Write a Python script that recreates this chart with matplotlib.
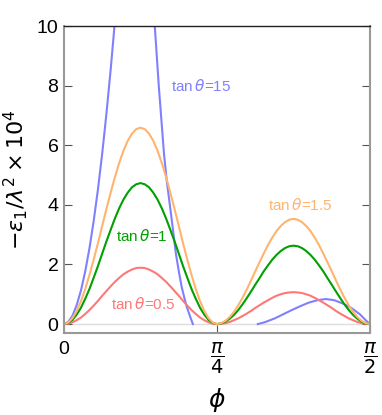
import matplotlib
matplotlib.use("Agg")
import matplotlib.pyplot as plt

# phi in degrees (0 .. 90 = pi/2), 1.25 degree steps
phi = [i * 1.25 for i in range(73)]

tan_1p5 = [0, .05, .20, .44, .77, 1.18, 1.65, 2.17, 2.72, 3.30, 3.87, 4.42, 4.94, 5.41, 5.82, 6.15, 6.39, 6.54, 6.59,
           6.54, 6.39, 6.15, 5.82, 5.41, 4.94, 4.42, 3.87, 3.30, 2.72, 2.17, 1.65, 1.18, .77, .44, .20, .05, 0,
           .03, .11, .24, .41, .63, .88, 1.16, 1.46, 1.77, 2.07, 2.37, 2.65, 2.90, 3.12, 3.29, 3.42, 3.50, 3.53,
           3.50, 3.42, 3.29, 3.12, 2.90, 2.65, 2.37, 2.07, 1.77, 1.46, 1.16, .88, .63, .41, .24, .11, .03, 0]
tan_1 = [0, .04, .14, .32, .55, .85, 1.18, 1.56, 1.95, 2.37, 2.78, 3.17, 3.55, 3.89, 4.18, 4.41, 4.59, 4.69, 4.73,
         4.69, 4.59, 4.41, 4.18, 3.89, 3.55, 3.17, 2.78, 2.37, 1.95, 1.56, 1.18, .85, .55, .32, .14, .04, 0,
         .02, .08, .18, .31, .47, .66, .87, 1.09, 1.32, 1.54, 1.77, 1.97, 2.16, 2.32, 2.45, 2.55, 2.61, 2.63,
         2.61, 2.55, 2.45, 2.32, 2.16, 1.97, 1.77, 1.54, 1.32, 1.09, .87, .66, .47, .31, .18, .08, .02, 0]
tan_0p5 = [0, .01, .06, .13, .22, .34, .47, .62, .78, .95, 1.11, 1.27, 1.42, 1.55, 1.67, 1.76, 1.83, 1.88, 1.89,
           1.88, 1.83, 1.76, 1.67, 1.55, 1.42, 1.27, 1.11, .95, .78, .62, .47, .34, .22, .13, .06, .01, 0,
           .01, .03, .07, .13, .19, .27, .35, .44, .54, .63, .72, .80, .88, .95, 1.00, 1.04, 1.06, 1.07,
           1.06, 1.04, 1.00, .95, .88, .80, .72, .63, .54, .44, .35, .27, .19, .13, .07, .03, .01, 0]

# tan(theta)=15 comes in two separate pieces
phi_15a = [0, 1.25, 2.5, 3.75, 5, 6.25, 7.5, 8.75, 10, 11.25, 12.5, 13.75, 15, 16.25, 18, 20, 22, 24, 25.5,
           26.7, 27.9, 29.4, 30.2, 31.7, 32.9, 33.8, 34.6, 35.4, 36.1, 37.0, 37.9]
tan_15a = [0, .07, .28, .64, 1.13, 1.77, 2.55, 3.47, 4.53, 5.73, 7.08, 8.56, 10.19, 11.9, 13.8, 15.2, 15.3, 14.0, 12.2,
           10, 7.96, 5.73, 4.83, 3.49, 2.37, 1.75, 1.25, .88, .58, .28, 0]
phi_15b = [57, 59, 62, 64.5, 67, 69.5, 72, 74.5, 77, 79.5, 82, 84.5, 87, 89, 90]
tan_15b = [0, .06, .19, .33, .47, .6, .72, .8, .84, .8, .69, .54, .33, .1, 0]

c_blue = "#8080ff"
c_orange = "#ffb46e"
c_green = "#00a000"
c_red = "#ff7878"

plt.rcParams['font.family'] = ['Liberation Sans', 'DejaVu Sans']
plt.rcParams['mathtext.fontset'] = 'dejavusans'

fig = plt.figure(figsize=(3.82, 4.15), dpi=100)
ax = fig.add_axes([0.1675, 0.1976, 0.8011, 0.7397])

ax.axhline(0, color="#dddddd", lw=1.0, zorder=1)
lw = 1.5
ax.plot(phi_15a, tan_15a, color=c_blue, lw=lw)
ax.plot(phi_15b, tan_15b, color=c_blue, lw=lw)
ax.plot(phi, tan_0p5, color=c_red, lw=lw)
ax.plot(phi, tan_1, color=c_green, lw=lw)
ax.plot(phi, tan_1p5, color=c_orange, lw=lw)

ax.text(31.5, 8.0, r'tan$\,\theta$=15', color=c_blue, fontsize=11, va='center')
ax.text(60, 4.0, r'tan$\,\theta$=1.5', color=c_orange, fontsize=11, va='center')
ax.text(15.3, 2.95, r'tan$\,\theta$=1', color=c_green, fontsize=11, va='center')
ax.text(13.8, 0.66, r'tan$\,\theta$=0.5', color=c_red, fontsize=11, va='center')

ax.set_xlim(0, 90)
ax.set_ylim(-0.3, 10)
ax.set_xticks([0, 45, 90])
ax.set_xticklabels(['0', r'$\dfrac{\pi}{4}$', r'$\dfrac{\pi}{2}$'])
ax.set_yticks([0, 2, 4, 6, 8, 10])
ax.tick_params(direction='in', length=6, width=0.8, color='#555555', labelsize=14, right=True, pad=4)
ax.tick_params(axis='x', pad=6)

for s in ['left', 'right', 'bottom']:
    ax.spines[s].set_color('#999999')
    ax.spines[s].set_linewidth(1.5)
ax.spines['top'].set_color('#222222')
ax.spines['top'].set_linewidth(1.0)

ax.set_xlabel(r'$\phi$', fontsize=18, labelpad=7)
ax.set_ylabel(r'$-\epsilon_1/\lambda^2\times10^4$', fontsize=16, labelpad=5)

fig.savefig('out.png', dpi=100)
